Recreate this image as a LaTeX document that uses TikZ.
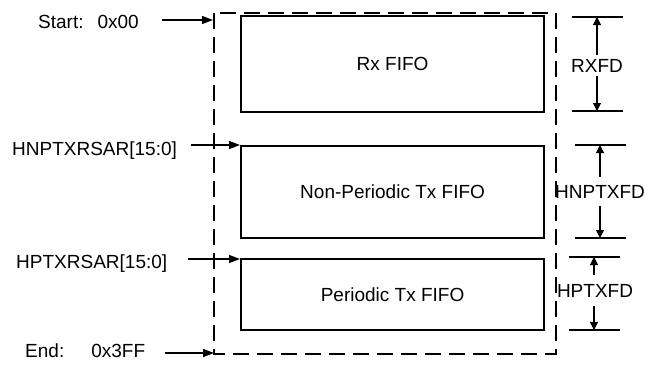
\documentclass[tikz,border=0pt]{standalone}
\usepackage{fontspec}
\setmainfont{Liberation Sans}
\usetikzlibrary{arrows.meta}

\begin{document}
\begin{tikzpicture}[x=1pt,y=-1pt,line cap=butt,
    txt/.style={font=\fontsize{19}{21}\selectfont},
    fifo/.style={txt,draw,line width=2.2pt,minimum width=303pt,inner sep=0pt,anchor=north west},
    reglbl/.style={txt,inner sep=0pt,anchor=base west},
    dimlbl/.style={txt,inner xsep=0pt},
    ptr/.style={-{Triangle[length=11pt,width=8pt]},line width=1.3pt},
    dimarr/.style={-{Triangle[length=8pt,width=8pt]},line width=1.1pt},
    tick/.style={line width=1.1pt}]
  \useasboundingbox (0,0) rectangle (645,365);

  % ---------------- memory frame and FIFOs ----------------
  \draw[line width=2.6pt,dash pattern=on 16pt off 8pt] (214,13) rectangle (556,354);
  \node[fifo,minimum height=96pt] (rxf)  at (240,15)  {Rx FIFO};
  \node[fifo,minimum height=92pt] (npf)  at (240,145) {Non-Periodic Tx FIFO};
  \node[fifo,minimum height=71pt] (ptf)  at (240,258) {Periodic Tx FIFO};

  % ---------------- start addresses ----------------
  \node[reglbl] (startlbl) at (38,28)  {Start:\hspace{14pt}0x00};
  \node[reglbl] (nplbl)    at (12,155) {HNPTXRSAR[15:0]};
  \node[reglbl] (ptlbl)    at (16,268) {HPTXRSAR[15:0]};
  \node[reglbl] (endlbl)   at (25,357) {End:\hspace{27pt}0x3FF};
  \coordinate (start-t) at (162,20);  \coordinate (start-h) at (213,20);
  \coordinate (np-t)    at (191,145);
  \coordinate (pt-t)    at (188,259);
  \coordinate (end-t)   at (165,353); \coordinate (end-h)   at (214,353);
  \draw[ptr] (start-t) -- (start-h);
  \draw[ptr] (np-t) -- (npf.north west);
  \draw[ptr] (pt-t) -- ([yshift=-1pt]ptf.north west);
  \draw[ptr] (end-t) -- (end-h);

  % ---------------- depths ----------------
  \node[dimlbl,inner ysep=4pt,anchor=base] (rxd) at (597,72)  {RXFD};
  \node[dimlbl,inner ysep=8pt,anchor=base] (npd) at (600,198) {HNPTXFD};
  \node[dimlbl,inner ysep=9pt,anchor=base] (ptd) at (595,297) {HPTXFD};
  \foreach \d/\x/\top/\bot in {rxd/597/17/111,npd/600/145/238,ptd/594/257/330}
    {\coordinate (\d-t) at (\x,\top);
     \coordinate (\d-b) at (\x,\bot);
     \draw[tick] ([xshift=-25pt]\d-t) -- ([xshift=26pt]\d-t);
     \draw[tick] ([xshift=-25pt]\d-b) -- ([xshift=26pt]\d-b);
     \draw[dimarr] (\d.north -| \d-t) -- (\d-t);
     \draw[dimarr] (\d.south -| \d-b) -- (\d-b);}
\end{tikzpicture}
\end{document}
